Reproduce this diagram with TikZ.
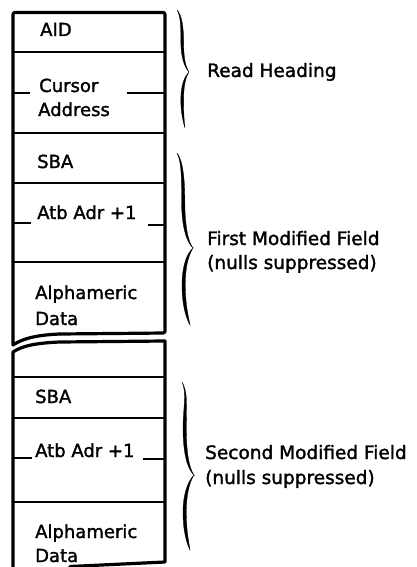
\documentclass[tikz,border=0pt]{standalone}
\usepackage{fontspec}
\setmainfont{DejaVu Sans}
\newfontfamily\labelfont{DejaVu Sans}[UprightFeatures={FakeBold=1.6}]
\tikzset{
  outer/.style={line width=3.2pt, line join=round, line cap=round},
  divider/.style={line width=1.2pt},
  tick/.style={line width=1.2pt},
  boxtext/.style={anchor=base west, inner sep=0pt, font=\labelfont\fontsize{18}{22}\selectfont},
  sidetext/.style={anchor=base west, inner sep=0pt, font=\labelfont\fontsize{18.5}{22}\selectfont},
  bracefill/.style={fill=black, draw=black, line width=0.3pt}
}
\begin{document}
\begin{tikzpicture}[x=1pt,y=-1pt]
\useasboundingbox (0,0) rectangle (417,567);
% ---- first section outline
\draw[outer, rounded corners=2pt] (13,345) -- (13,12.5) -- (165,12.5) -- (165,333) -- (60,334);
\draw[outer] (60,334) .. controls (35,335) and (22,339) .. (13,345);
% dividers
\foreach \yy in {52,133,183,262} \draw[divider] (13,\yy) -- (165,\yy);
% ticks
\draw[tick] (13,93) -- (30,93);
\draw[tick] (127,93) -- (165,93);
\draw[tick] (13,223) -- (31,223);
\draw[tick] (148,225) -- (165,225);
% texts
\node[boxtext] (aid) at (40,36) {AID};
\node[boxtext] (cur) at (39,92) {Cursor};
\node[boxtext] (adr) at (38,116) {Address};
\node[boxtext] (sba1) at (37,168) {SBA};
\node[boxtext] (atb1) at (37,219) {Atb Adr +1};
\node[boxtext] (alp1) at (35,299) {Alphameric};
\node[boxtext] (dat1) at (35,325) {Data};
% ---- second section outline
\draw[outer] (13,570) -- (13,352) .. controls (22,346) and (35,343) .. (60,342) -- (165,341) -- (165,562) -- (70,566.5);
\foreach \yy in {377,418,502} \draw[divider] (13,\yy) -- (165,\yy);
\draw[tick] (13,458) -- (32,458);
\draw[tick] (143,459) -- (165,459);
\node[boxtext] (sba2) at (35,403) {SBA};
\node[boxtext] (atb2) at (35,457) {Atb Adr +1};
\node[boxtext] (alp2) at (35,538) {Alphameric};
\node[boxtext] (dat2) at (35,562) {Data};
% ---- braces
\path[bracefill] (177,10) .. controls (181,16) and (180.8,30) .. (180.8,41) .. controls (180.8,56) and (184,67) .. (189,72)
  .. controls (185,66) and (183.6,56) .. (183.6,41) .. controls (183.6,28) and (182,15) .. (177,10) -- cycle;
\path[bracefill] (189,72) .. controls (184,77) and (180.8,86) .. (180.8,100) .. controls (180.8,112) and (183,122) .. (185,128)
  .. controls (184,120) and (183.6,112) .. (183.6,100) .. controls (183.6,88) and (185,78) .. (189,72) -- cycle;
\path[bracefill] (177,153) .. controls (182,162) and (181.5,185) .. (181.5,200) .. controls (181.5,225) and (186,242) .. (193,248)
  .. controls (188,242) and (184.8,225) .. (184.8,200) .. controls (184.8,180) and (183,160) .. (177,153) -- cycle;
\path[bracefill] (193,248) .. controls (186,254) and (182,268) .. (182,285) .. controls (182,305) and (186,318) .. (190,325)
  .. controls (188,315) and (185.3,303) .. (185.3,285) .. controls (185.3,268) and (188,256) .. (193,248) -- cycle;
\path[bracefill] (182,382) .. controls (187,392) and (183,410) .. (183,428) .. controls (183,452) and (187,469) .. (194,475)
  .. controls (189,468) and (186.3,452) .. (186.3,428) .. controls (186.3,405) and (188,392) .. (182,382) -- cycle;
\path[bracefill] (194,475) .. controls (187,482) and (183,496) .. (183,512) .. controls (183,532) and (187,544) .. (190,550)
  .. controls (188.5,540) and (186.3,530) .. (186.3,512) .. controls (186.3,496) and (189,483) .. (194,475) -- cycle;
% ---- side labels
\node[sidetext] (rh) at (207,77) {Read Heading};
\node[sidetext] (fmf) at (207,245) {First Modified Field};
\node[sidetext] (fmn) at (207,269) {(nulls suppressed)};
\node[sidetext] (smf) at (205,459) {Second Modified Field};
\node[sidetext] (smn) at (205,484) {(nulls suppressed)};
\end{tikzpicture}
\end{document}
